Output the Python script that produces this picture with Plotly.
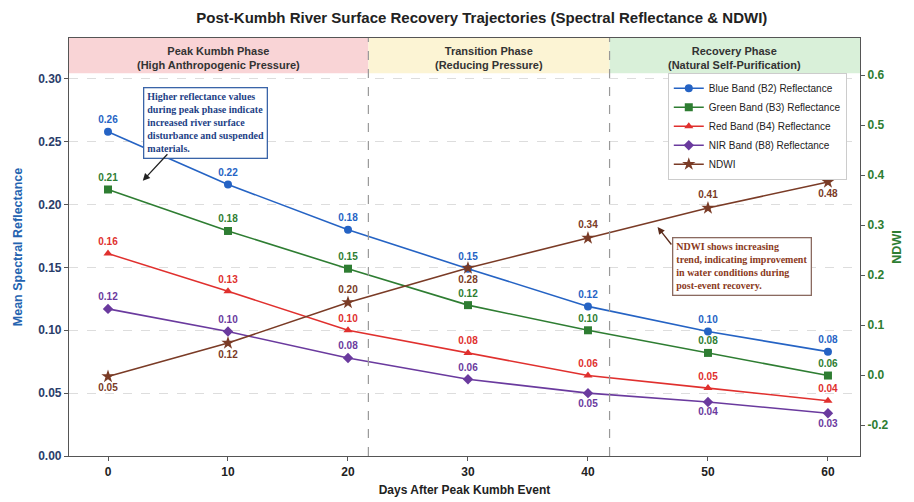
import plotly.graph_objects as go

days = [0, 10, 20, 30, 40, 50, 60]
blue_b2 = [0.258, 0.216, 0.180, 0.149, 0.119, 0.099, 0.083]
green_b3 = [0.212, 0.179, 0.149, 0.120, 0.100, 0.082, 0.064]
red_b4 = [0.161, 0.131, 0.100, 0.082, 0.064, 0.054, 0.044]
nir_b8 = [0.117, 0.099, 0.078, 0.061, 0.050, 0.043, 0.034]
ndwi = [-0.003, 0.064, 0.145, 0.214, 0.274, 0.334, 0.386]
ndwi_labels = ["0.05", "0.12", "0.20", "0.28", "0.34", "0.41", "0.48"]

left_ticks = [0.00, 0.05, 0.10, 0.15, 0.20, 0.25, 0.30]
right_tickvals = [-0.1, 0.0, 0.1, 0.2, 0.3, 0.4, 0.5, 0.6]
right_ticktext = ["-0.2", "0.0", "0.1", "0.2", "0.3", "0.4", "0.5", "0.6"]
x_ticks = [0, 10, 20, 30, 40, 50, 60]

phase_bounds = [-3.25, 21.7, 41.8, 62.67]
phase_names = ["Peak Kumbh Phase<br>(High Anthropogenic Pressure)",
               "Transition Phase<br>(Reducing Pressure)",
               "Recovery Phase<br>(Natural Self-Purification)"]
phase_colors = ["#f9d4d6", "#fcf4d4", "#d9f0d9"]

C_BLUE, C_GREEN, C_RED, C_NIR, C_NDWI = "#2563c4", "#2e7d32", "#e0302e", "#6a3a9e", "#7a3b26"

fig = go.Figure()

def band(name, y, color, symbol, pos):
    fig.add_trace(go.Scatter(
        x=days, y=y, name=name, mode="lines+markers+text",
        line=dict(color=color, width=1.6),
        marker=dict(color=color, size=8, symbol=symbol),
        texttemplate="%{y:.2f}", textposition=pos,
        textfont=dict(color=color, size=10, family="Liberation Sans", weight="bold"),
        cliponaxis=False))

band("Blue Band (B2) Reflectance", blue_b2, C_BLUE, "circle", "top center")
band("Green Band (B3) Reflectance", green_b3, C_GREEN, "square", "top center")
band("Red Band (B4) Reflectance", red_b4, C_RED, "triangle-up", "top center")
band("NIR Band (B8) Reflectance", nir_b8, C_NIR, "diamond",
     ["top center"] * 4 + ["bottom center"] * 3)

fig.add_trace(go.Scatter(
    x=days, y=ndwi, name="NDWI", mode="lines+markers+text", yaxis="y2",
    line=dict(color=C_NDWI, width=1.6),
    marker=dict(color=C_NDWI, size=10, symbol="star"),
    text=ndwi_labels,
    textposition=["bottom center", "bottom center", "top center", "bottom center",
                  "top center", "top center", "bottom center"],
    textfont=dict(color=C_NDWI, size=10, family="Liberation Sans", weight="bold"),
    cliponaxis=False))

shapes = []
for i in range(3):
    shapes.append(dict(type="rect", xref="x", yref="y", x0=phase_bounds[i], x1=phase_bounds[i + 1],
                       y0=0.3045, y1=0.3325, fillcolor=phase_colors[i], line=dict(width=0), layer="below"))
for xb in phase_bounds[1:3]:
    shapes.append(dict(type="line", xref="x", yref="paper", x0=xb, x1=xb, y0=0, y1=1,
                       line=dict(color="#999999", width=1.2, dash="dash")))

annotations = []
for i in range(3):
    annotations.append(dict(x=(phase_bounds[i] + phase_bounds[i + 1]) / 2, y=0.952, xref="x", yref="paper",
                            xanchor="center", yanchor="middle",
                            text=phase_names[i], showarrow=False,
                            font=dict(size=11, color="#333333", family="Liberation Sans", weight="bold")))

annotations.append(dict(
    x=0.094, y=0.882, xref="paper", yref="paper", xanchor="left", yanchor="top", align="left",
    text="Higher reflectance values<br>during peak phase indicate<br>increased river surface<br>disturbance and suspended<br>materials.",
    showarrow=False, bgcolor="white", bordercolor="#3a64a8", borderwidth=1.3, borderpad=3,
    font=dict(size=10, color="#1d3f86", family="Liberation Serif", weight="bold")))
annotations.append(dict(x=2.9, y=0.219, xref="x", yref="y", text="", showarrow=True,
                        ax=26, ay=-28, axref="pixel", ayref="pixel",
                        arrowhead=2, arrowsize=1.1, arrowwidth=1.3, arrowcolor="#222222"))

annotations.append(dict(
    x=0.762, y=0.524, xref="paper", yref="paper", xanchor="left", yanchor="top", align="left",
    text="NDWI shows increasing<br>trend, indicating improvement<br>in water conditions during<br>post-event recovery.",
    showarrow=False, bgcolor="white", bordercolor="#8a6a60", borderwidth=1.3, borderpad=3,
    font=dict(size=10, color="#8b3a22", family="Liberation Serif", weight="bold")))
annotations.append(dict(x=45.8, y=0.296, xref="x", yref="y2", text="", showarrow=True,
                        ax=15, ay=19, axref="pixel", ayref="pixel",
                        arrowhead=2, arrowsize=1.1, arrowwidth=1.3, arrowcolor="#5a2a1a"))

fig.update_layout(
    width=906, height=494,
    margin=dict(l=61, r=54, t=30, b=46, autoexpand=False),
    paper_bgcolor="white", plot_bgcolor="white",
    title=dict(text="<b>Post-Kumbh River Surface Recovery Trajectories (Spectral Reflectance & NDWI)</b>",
               x=0.523, xanchor="center", xref="container", y=0.98, yref="container", yanchor="middle",
               font=dict(size=15, color="#222222", family="Liberation Sans")),
    xaxis=dict(range=[phase_bounds[0], phase_bounds[3]], tickvals=x_ticks, automargin=False,
               showgrid=False, zeroline=False, showline=True, linecolor="#555555", linewidth=1.2,
               mirror=True, ticks="outside", ticklen=4, tickcolor="#555555",
               tickfont=dict(size=12, color="#222222", family="Liberation Sans", weight="bold"),
               title=dict(text="<b>Days After Peak Kumbh Event</b>", standoff=8,
                          font=dict(size=12, color="#222222", family="Liberation Sans"))),
    yaxis=dict(range=[0, 0.3325], tickvals=left_ticks, tickformat=".2f", automargin=False,
               showgrid=True, gridcolor="#dddddd", griddash="dash", gridwidth=1,
               zeroline=False, showline=True, linecolor="#555555", linewidth=1.2,
               ticks="outside", ticklen=4, tickcolor="#555555",
               tickfont=dict(size=12, color="#2a3d6a", family="Liberation Sans", weight="bold"),
               title=dict(text="<b>Mean Spectral Reflectance</b>", standoff=12,
                          font=dict(size=12.5, color="#2463b0", family="Liberation Sans"))),
    yaxis2=dict(range=[-0.162, 0.674], overlaying="y", side="right", automargin=False,
                tickvals=right_tickvals, ticktext=right_ticktext,
                showgrid=False, zeroline=False, showline=True, linecolor="#555555", linewidth=1.2,
                ticks="outside", ticklen=4, tickcolor="#555555",
                tickfont=dict(size=12, color="#2e7d32", family="Liberation Sans", weight="bold"),
                title=dict(text="<b>NDWI</b>", standoff=4,
                           font=dict(size=12.5, color="#2e7d32", family="Liberation Sans"))),
    legend=dict(x=0.757, y=0.917, xanchor="left", yanchor="top",
                bgcolor="white", bordercolor="#cccccc", borderwidth=1,
                font=dict(size=10, color="#222222", family="Liberation Sans"),
                tracegroupgap=0, itemwidth=30),
    shapes=shapes, annotations=annotations,
)

fig.write_html("out.html")
